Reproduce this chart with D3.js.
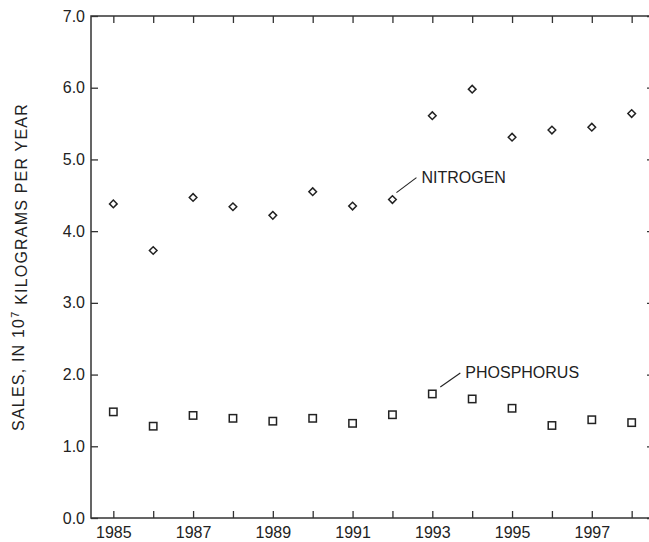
<!DOCTYPE html>
<html lang="en">
  <head>
    <title>Fertilizer sales, nitrogen and phosphorus</title>
    <meta charset="utf-8">
    <script src="https://d3js.org/d3.v7.min.js"></script>
    <style>
      body { margin: 0; background: #fff; }
      text { font-family: "Liberation Sans", Arial, sans-serif; fill: #222; }
    </style>
  </head>

  <body>
    <svg></svg>

    <script>
      // values
      const years = [1985, 1986, 1987, 1988, 1989, 1990, 1991, 1992, 1993, 1994, 1995, 1996, 1997, 1998]
      const nitrogen = [4.38, 3.73, 4.47, 4.34, 4.22, 4.55, 4.35, 4.44, 5.61, 5.98, 5.31, 5.41, 5.45, 5.64]
      const phosphorus = [1.48, 1.28, 1.43, 1.39, 1.35, 1.39, 1.32, 1.44, 1.73, 1.66, 1.53, 1.29, 1.37, 1.33]
      const yTicks = [0, 1, 2, 3, 4, 5, 6, 7]
      const xLabels = [1985, 1987, 1989, 1991, 1993, 1995, 1997]

      const width = 649
      const height = 542
      const margin = { top: 16, right: -5, bottom: 24, left: 91 }
      const axisColor = '#333'
      const fontFamily = '"Liberation Sans", Arial, sans-serif'

      const svg = d3.select('svg')
        .attr('width', width)
        .attr('height', height)

      const x = d3.scaleLinear()
        .domain([1984.44, 1998.56])
        .range([margin.left, width - margin.right])

      const y = d3.scaleLinear()
        .domain([0, 7])
        .range([height - margin.bottom, margin.top])

      const tickLen = 7

      // frame
      svg.append('rect')
        .attr('x', x.range()[0])
        .attr('y', y.range()[1])
        .attr('width', x.range()[1] - x.range()[0])
        .attr('height', y.range()[0] - y.range()[1])
        .attr('fill', 'none')
        .attr('stroke', axisColor)
        .attr('stroke-width', 1.5)

      // bottom axis
      const axBottom = svg.append('g')
        .attr('transform', `translate(0, ${y(0)})`)
        .call(d3.axisBottom(x)
          .tickValues(years)
          .tickSize(-tickLen)
          .tickFormat(d => xLabels.includes(d) ? d : ''))
      axBottom.select('.domain').remove()

      // top axis
      const axTop = svg.append('g')
        .attr('transform', `translate(0, ${y(7)})`)
        .call(d3.axisTop(x).tickValues(years).tickSize(-tickLen).tickFormat(''))
      axTop.select('.domain').remove()

      // left axis
      const axLeft = svg.append('g')
        .attr('transform', `translate(${x.range()[0]}, 0)`)
        .call(d3.axisLeft(y)
          .tickValues(yTicks)
          .tickSize(-tickLen)
          .tickFormat(d3.format('.1f')))
      axLeft.select('.domain').remove()

      // right axis
      const axRight = svg.append('g')
        .attr('transform', `translate(${x.range()[1]}, 0)`)
        .call(d3.axisRight(y).tickValues(yTicks).tickSize(-tickLen).tickFormat(''))
      axRight.select('.domain').remove()

      svg.selectAll('.tick line')
        .attr('stroke', axisColor)
        .attr('stroke-width', 1.3)

      axBottom.selectAll('.tick text')
        .attr('y', 9)
        .attr('dy', '0.71em')
        .style('font-size', '16px')
        .style('font-family', fontFamily)
        .attr('fill', '#222')

      axLeft.selectAll('.tick text')
        .attr('x', -6)
        .style('font-size', '16px')
        .style('font-family', fontFamily)
        .attr('fill', '#222')

      // y axis title
      const title = svg.append('text')
        .attr('transform', `translate(24, ${(y(0) + y(7)) / 2}) rotate(-90)`)
        .attr('text-anchor', 'middle')
        .style('font-size', '16px')
        .style('letter-spacing', '1.2px')
      title.append('tspan').text('SALES, IN 10')
      title.append('tspan').text('7').attr('dy', '-0.5em').style('font-size', '11px')
      title.append('tspan').text(' KILOGRAMS PER YEAR').attr('dy', '0.5em')

      // markers
      const nData = years.map((yr, i) => ({ year: yr, value: nitrogen[i] }))
      const pData = years.map((yr, i) => ({ year: yr, value: phosphorus[i] }))

      svg.append('g')
        .selectAll('path')
        .data(nData)
        .join('path')
          .attr('transform', d => `translate(${x(d.year)}, ${y(d.value)})`)
          .attr('d', 'M0,-3.8L3.8,0L0,3.8L-3.8,0Z')
          .attr('fill', '#fff')
          .attr('stroke', '#222')
          .attr('stroke-width', 1.5)

      svg.append('g')
        .selectAll('rect')
        .data(pData)
        .join('rect')
          .attr('x', d => x(d.year) - 3.7)
          .attr('y', d => y(d.value) - 3.7)
          .attr('width', 7.4)
          .attr('height', 7.4)
          .attr('fill', '#fff')
          .attr('stroke', '#222')
          .attr('stroke-width', 1.5)

      // series labels with leader lines
      function label(d, text, dx1, dy1, dx2, dy2) {
        const px = x(d.year)
        const py = y(d.value)
        svg.append('line')
          .attr('x1', px + dx1).attr('y1', py + dy1)
          .attr('x2', px + dx2).attr('y2', py + dy2)
          .attr('stroke', '#222')
          .attr('stroke-width', 1.1)
        svg.append('text')
          .attr('x', px + dx2 + 5)
          .attr('y', py + dy2 + 5)
          .style('font-size', '16px')
          .text(text)
      }
      label(nData[7], 'NITROGEN', 4, -7, 24, -22)
      label(pData[8], 'PHOSPHORUS', 8, -7, 28, -21)
    </script>
  </body>
</html>
